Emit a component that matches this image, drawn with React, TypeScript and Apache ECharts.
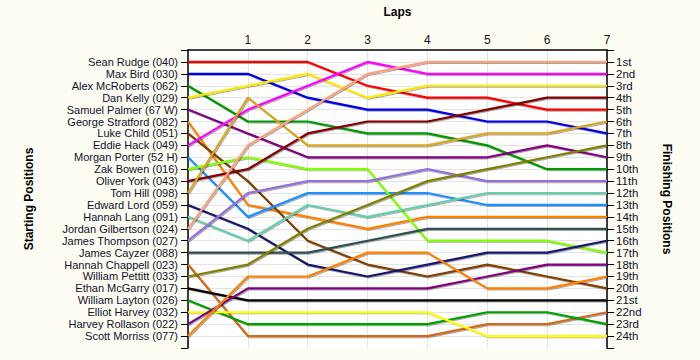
import React, { useEffect, useRef } from "react";
import * as echarts from "echarts";

const laps = [0, 1, 2, 3, 4, 5, 6, 7];

const drivers = [
  "Sean Rudge (040)",
  "Max Bird (030)",
  "Alex McRoberts (062)",
  "Dan Kelly (029)",
  "Samuel Palmer (67 W)",
  "George Stratford (082)",
  "Luke Child (051)",
  "Eddie Hack (049)",
  "Morgan Porter (52 H)",
  "Zak Bowen (016)",
  "Oliver York (043)",
  "Tom Hill (098)",
  "Edward Lord (059)",
  "Hannah Lang (091)",
  "Jordan Gilbertson (024)",
  "James Thompson (027)",
  "James Cayzer (088)",
  "Hannah Chappell (023)",
  "William Pettitt (033)",
  "Ethan McGarry (017)",
  "William Layton (026)",
  "Elliot Harvey (032)",
  "Harvey Rollason (022)",
  "Scott Morriss (077)",
];

const finishLabels = [
  "1st", "2nd", "3rd", "4th", "5th", "6th", "7th", "8th", "9th", "10th", "11th", "12th",
  "13th", "14th", "15th", "16th", "17th", "18th", "19th", "20th", "21st", "22nd", "23rd", "24th",
];

const colors = [
  "#FF0000", "#0000E6", "#009A00", "#FFE800", "#800080", "#FF8000",
  "#7F3F00", "#FF00FF", "#1E90FF", "#7FFF00", "#800000", "#DAA520",
  "#191970", "#66CDAA", "#FFA07A", "#9370DB", "#2F4F4F", "#D2691E",
  "#808000", "#000000", "#00A000", "#FFFF00", "#800080", "#FF8000",
];

// positions at laps 0..7 for each driver
const positions = [
  [1, 1, 1, 3, 4, 4, 5, 5],
  [2, 2, 4, 5, 5, 6, 6, 7],
  [3, 6, 6, 7, 7, 8, 10, 10],
  [4, 3, 2, 4, 3, 3, 3, 3],
  [5, 7, 9, 9, 9, 9, 8, 9],
  [6, 13, 14, 15, 14, 14, 14, 14],
  [7, 11, 16, 18, 19, 18, 19, 20],
  [8, 5, 3, 1, 2, 2, 2, 2],
  [9, 14, 12, 12, 12, 13, 13, 13],
  [10, 9, 10, 10, 16, 16, 16, 17],
  [11, 10, 7, 6, 6, 5, 4, 4],
  [12, 4, 8, 8, 8, 7, 7, 6],
  [13, 15, 18, 19, 18, 17, 17, 16],
  [14, 16, 13, 14, 13, 12, 12, 12],
  [15, 8, 5, 2, 1, 1, 1, 1],
  [16, 12, 11, 11, 10, 11, 11, 11],
  [17, 17, 17, 16, 15, 15, 15, 15],
  [18, 24, 24, 24, 24, 23, 23, 22],
  [19, 18, 15, 13, 11, 10, 9, 8],
  [20, 21, 21, 21, 21, 21, 21, 21],
  [21, 23, 23, 23, 23, 22, 22, 23],
  [22, 22, 22, 22, 22, 24, 24, 24],
  [23, 20, 20, 20, 20, 19, 18, 18],
  [24, 19, 19, 17, 17, 20, 20, 19],
];

const FONT = "'Liberation Sans', Arial, sans-serif";

export default function App() {
  const ref = useRef<HTMLDivElement>(null);
  useEffect(() => {
    if (!ref.current) return;
    const chart = echarts.init(ref.current, undefined, { renderer: "svg" });
    const splitColors: string[] = [];
    for (let i = 0; i <= 25; i++) splitColors.push(i === 0 || i === 25 ? "rgba(0,0,0,0)" : "#E4E4E4");

    const yCommon = {
      type: "value" as const,
      inverse: true,
      min: 0,
      max: 25,
      interval: 1,
      axisLine: { show: true, lineStyle: { color: "#000", width: 1.5 } },
      axisTick: { show: true, length: 7, lineStyle: { color: "#000" } },
      nameLocation: "middle" as const,
      nameTextStyle: { fontFamily: FONT, fontWeight: "bold" as const, fontSize: 12, color: "#000" },
    };

    chart.setOption({
      animation: false,
      backgroundColor: "#FDFDF3",
      grid: {
        left: 188,
        right: 93,
        top: 50,
        bottom: 12,
        show: true,
        backgroundColor: "#FFFFFF",
        borderWidth: 0,
      },
      xAxis: {
        type: "value",
        position: "top",
        min: 0,
        max: 7,
        interval: 1,
        name: "Laps",
        nameLocation: "middle",
        nameGap: 32,
        nameTextStyle: { fontFamily: FONT, fontWeight: "bold", fontSize: 12, color: "#000" },
        axisLine: { show: true, lineStyle: { color: "#000", width: 1.5 } },
        axisTick: { show: false },
        axisLabel: {
          fontFamily: FONT,
          fontSize: 12,
          color: "#111",
          margin: 4,
          formatter: (v: number) => (v === 0 ? "" : String(v)),
        },
        splitLine: { show: true, lineStyle: { color: "#E4E4E4", width: 1 } },
      },
      yAxis: [
        {
          ...yCommon,
          position: "left",
          name: "Starting Positions",
          nameGap: 153,
          nameRotate: 90,
          axisLabel: {
            fontFamily: FONT,
            fontSize: 11,
            lineHeight: 11,
            color: "#10102a",
            margin: 10,
            formatter: (v: number) => drivers[v - 1] ?? "",
          },
          splitLine: { show: true, lineStyle: { color: splitColors, width: 1 } },
        },
        {
          ...yCommon,
          position: "right",
          name: "Finishing Positions",
          nameGap: 54,
          nameRotate: -90,
          axisLabel: {
            fontFamily: FONT,
            fontSize: 11.5,
            lineHeight: 11,
            color: "#10102a",
            margin: 9,
            formatter: (v: number) => finishLabels[v - 1] ?? "",
          },
          splitLine: { show: false },
        },
      ],
      series: drivers.map((name, i) => ({
        name,
        type: "line",
        yAxisIndex: 0,
        symbol: "none",
        silent: true,
        data: laps.map((lap, j) => [lap, positions[i][j]]),
        lineStyle: {
          color: colors[i],
          width: 2.2,
          shadowColor: "rgba(0,0,0,0.35)",
          shadowBlur: 1,
          shadowOffsetX: 1,
          shadowOffsetY: 1,
        },
      })),
    });
    return () => chart.dispose();
  }, []);
  return <div ref={ref} style={{ width: 700, height: 360, position: "absolute", left: 0, top: 0 }} />;
}
